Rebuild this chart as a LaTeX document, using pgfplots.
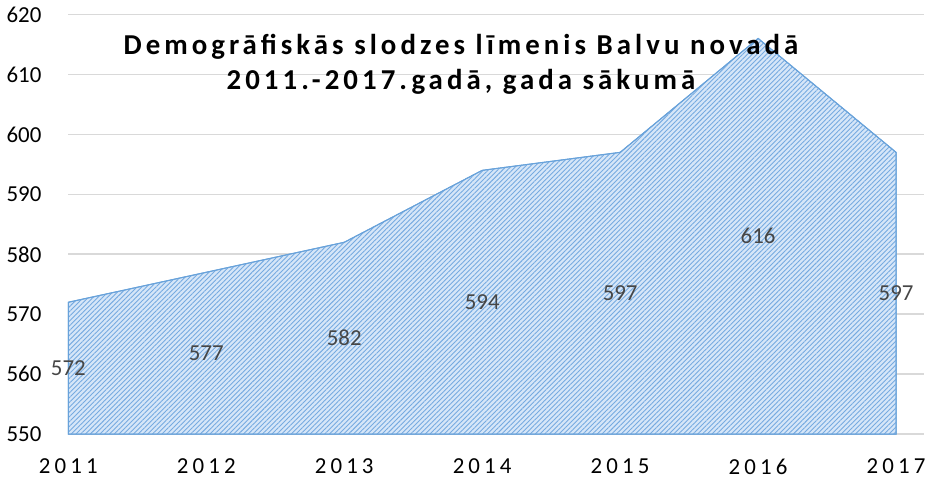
\documentclass[border=0pt]{standalone}
\usepackage{fontspec}
\setmainfont{Carlito}
\newfontfamily\spacedfont[LetterSpace=18]{Carlito}
\newfontfamily\titlefont[LetterSpace=14]{Carlito}
\usepackage{pgfplots}
\pgfplotsset{compat=1.18}
\usepackage{pgfplotstable}
\usetikzlibrary{patterns.meta}

\definecolor{areafill}{RGB}{214,230,248}
\definecolor{arealine}{RGB}{104,162,218}
\definecolor{hatch}{RGB}{118,170,224}
\definecolor{gridgray}{RGB}{217,217,217}
\definecolor{labelgray}{RGB}{70,70,70}

% population load level, start of year
\pgfplotstableread{
year v
2011 572
2012 577
2013 582
2014 594
2015 597
2016 616
2017 597
}\slodze

\begin{document}
\begin{tikzpicture}
\begin{axis}[
    scale only axis,
    width=430pt, height=211pt,
    xmin=2011, xmax=2017.2,
    ymin=550, ymax=620,
    ytick={550,560,...,620},
    xtick={2011,...,2017},
    xticklabels={2011,2012,2013,2014,2015,2016,2017},
    axis line style={draw=none},
    major tick length=0pt,
    ymajorgrids,
    grid style={gridgray, line width=0.8pt},
    yticklabel style={font=\fontsize{11.5}{13}\selectfont, /pgf/number format/assume math mode=true, /pgf/number format/1000 sep={}, xshift=-10pt},
    xticklabel style={font=\spacedfont\fontsize{11.5}{13}\selectfont, yshift=-9pt},
    clip=false,
]
\addplot[fill=areafill, draw=arealine, line width=0.5pt,
    postaction={pattern={Lines[angle=45, distance=1.7pt, line width=0.45pt]}, pattern color=hatch}]
    table[x=year, y=v]{\slodze} \closedcycle;
% value labels, centred halfway between the base and the value
\addplot[draw=none, mark=none, nodes near coords, point meta=explicit,
    every node near coord/.style={anchor=center, font=\fontsize{11.5}{13}\selectfont, text=labelgray,
        /pgf/number format/assume math mode=true}]
    table[x=year, y expr=(\thisrow{v}+550)/2, meta=v]{\slodze};
\node[align=center, font=\titlefont\bfseries\fontsize{14.5}{17.5}\selectfont, text=black]
    at (rel axis cs:0.459,0.882) {Demogrāfiskās slodzes līmenis Balvu novadā\\2011.-2017.gadā, gada sākumā};
\end{axis}
\end{tikzpicture}
\end{document}
